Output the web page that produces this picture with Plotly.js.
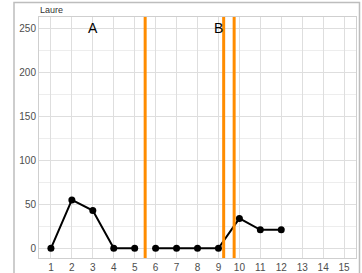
<!DOCTYPE html>
<html><head><meta charset="utf-8">
<script src="https://cdn.plot.ly/plotly-3.0.1.min.js"></script>
<style>html,body{margin:0;padding:0;background:#fff;}#chart{width:362px;height:273px;}</style>
</head><body><div id="chart"></div>
<script>
var sessions1 = [1, 2, 3, 4, 5];
var values1 = [0, 55, 43, 0, 0];
var sessions2 = [6, 7, 8, 9, 10, 11, 12];
var values2 = [0, 0, 0, 0, 34, 21, 21];
var phaseLines = [5.5, 9.25, 9.75];
var phaseLabels = ["A", "B"];
var phaseLabelX = [3, 9];
var phaseLabelY = 250;
var xTicks = [1,2,3,4,5,6,7,8,9,10,11,12,13,14,15];
var yTicks = [0, 50, 100, 150, 200, 250];
var stripTitle = "Laure";

var W = 362, H = 273;
var L = 39, R = 6, T = 17, B = 15;
var pw = W - L - R, ph = H - T - B;
function px(x){ return (x - L) / pw; }
function py(y){ return 1 - (y - T) / ph; }

var lineStyle = {color: '#000', width: 2};
var markerStyle = {color: '#000', size: 7};
var data = [
  {x: sessions1, y: values1, mode: 'lines+markers', line: lineStyle, marker: markerStyle, hoverinfo: 'skip'},
  {x: sessions2, y: values2, mode: 'lines+markers', line: lineStyle, marker: markerStyle, hoverinfo: 'skip'}
];

var shapes = phaseLines.map(function(v){
  return {type: 'line', xref: 'x', yref: 'paper', x0: v, x1: v, y0: 0, y1: 1,
          line: {color: '#FF8C00', width: 3}, layer: 'above'};
});
// outer frame
shapes.push({type: 'rect', xref: 'paper', yref: 'paper', x0: px(14), x1: px(359.5), y0: py(2.5), y1: py(280),
  line: {color: '#BDBDBD', width: 1.5}, fillcolor: 'rgba(0,0,0,0)', layer: 'below'});

var annotations = phaseLabels.map(function(t, i){
  return {x: phaseLabelX[i], y: phaseLabelY, xref: 'x', yref: 'y', text: t, showarrow: false,
          font: {family: 'Liberation Sans, Arial, sans-serif', size: 14, color: '#000'}};
});
annotations.push({x: px(38), y: py(9.5), xref: 'paper', yref: 'paper', text: stripTitle, showarrow: false,
  xanchor: 'left', yanchor: 'middle', font: {family: 'Liberation Sans, Arial, sans-serif', size: 9, color: '#333'}});

var layout = {
  width: W, height: H,
  margin: {l: L, r: R, t: T, b: B, pad: 0},
  paper_bgcolor: '#fff', plot_bgcolor: '#fff',
  showlegend: false,
  font: {family: 'Liberation Sans, Arial, sans-serif', size: 10, color: '#4D4D4D'},
  xaxis: {range: [0.43, 15.57], tickvals: xTicks, ticktext: xTicks.map(String), showgrid: true,
    gridcolor: '#DEDEDE', gridwidth: 1, zeroline: false, showline: true, mirror: true,
    linecolor: '#CFCFCF', linewidth: 1, ticks: '', ticklen: 0, tickfont: {size: 10, color: '#4D4D4D'}, fixedrange: true},
  yaxis: {range: [-11, 263], tickvals: yTicks, showgrid: true, gridcolor: '#DEDEDE', gridwidth: 1,
    minor: {dtick: 25, tick0: 0, showgrid: true, gridcolor: '#EDEDED', gridwidth: 1, ticks: ''},
    zeroline: false, showline: true, mirror: true, linecolor: '#CFCFCF', linewidth: 1, ticks: '', ticklen: 0,
    tickfont: {size: 10, color: '#4D4D4D'}, fixedrange: true},
  shapes: shapes,
  annotations: annotations
};
Plotly.newPlot('chart', data, layout, {staticPlot: true, displayModeBar: false});
</script></body></html>
